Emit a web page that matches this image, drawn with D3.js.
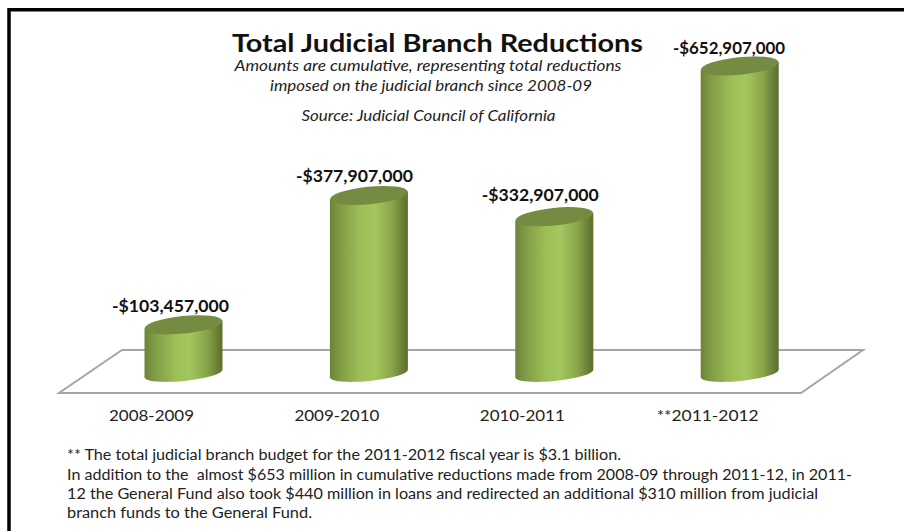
<!DOCTYPE html>
<html>
<head>
<meta charset="utf-8">
<script src="https://cdn.jsdelivr.net/npm/d3@7"></script>
<style>
html,body{margin:0;padding:0;background:#fff}
svg{display:block}
text{font-family:Lato,"Open Sans",sans-serif;white-space:pre}
</style>
</head>
<body>
<script>
const categories = ["2008-2009", "2009-2010", "2010-2011", "**2011-2012"];
const reductions = [-103457000, -377907000, -332907000, -652907000];
const titleText = "Total Judicial Branch Reductions";
const subtitleLines = [
  "Amounts are cumulative, representing total reductions",
  "imposed on the judicial branch since 2008-09",
  "Source: Judicial Council of California"
];
const footnoteLines = [
  "** The total judicial branch budget for the 2011-2012 fiscal year is $3.1 billion.",
  "In addition to the  almost $653 million in cumulative reductions made from 2008-09 through 2011-12, in 2011-",
  "12 the General Fund also took $440 million in loans and redirected an additional $310 million from judicial",
  "branch funds to the General Fund."
];

const width = 904, height = 531;
const svg = d3.select("body").append("svg").attr("width", width).attr("height", height);

// Horizontal shading that gives the columns their round look
const grad = svg.append("defs").append("linearGradient").attr("id", "body-shade");
[[0, "#6c8236"], [0.12, "#7f9a45"], [0.4, "#9dbf58"], [0.58, "#a3c65e"], [0.8, "#88a549"], [0.93, "#6a7f36"], [1, "#5c6f2d"]]
  .forEach(([o, c]) => grad.append("stop").attr("offset", o).attr("stop-color", c));

// Page frame runs off the right and bottom edges
svg.append("path").attr("d", `M9,${height} V9.8 H${width}`)
  .attr("fill", "none").attr("stroke", "#000").attr("stroke-width", 3.5);

// Perspective floor of the 3D plot
const floor = [[59, 393], [801, 393], [863, 350], [122, 350]];
svg.append("path").attr("d", d3.line()(floor) + "Z")
  .attr("fill", "#fff").attr("stroke", "#a6a6a6").attr("stroke-width", 2);

const x = d3.scalePoint().domain(categories).range([183.5, 739.7]);
const y = d3.scaleLinear().domain([0, -652907000]).range([373.5, 66]);

const rx = 39, ryTop = 8.8, ryBottom = 7.4, tilt = -5.8;
const skew = rx * Math.sin(-tilt * Math.PI / 180);

const bars = svg.selectAll("g.col").data(categories).join("g").attr("class", "col");

// Column side: the lower edge is an arc of the tilted base ellipse
bars.append("path")
  .attr("fill", "url(#body-shade)")
  .attr("d", (c, i) => {
    const cx = x(c), t = y(reductions[i]), b = y(0);
    return `M${cx - rx},${t + skew} L${cx + rx},${t - skew} L${cx + rx},${b - skew}` +
      ` A${rx},${ryBottom} ${tilt} 0 1 ${cx - rx},${b + skew} Z`;
  });

// Column cap
bars.append("ellipse")
  .attr("rx", rx).attr("ry", ryTop)
  .attr("fill", "#758b42")
  .attr("transform", (c, i) => `translate(${x(c)},${y(reductions[i])}) rotate(${tilt})`);

// Value labels above each cap
const money = v => "-$" + d3.format(",")(Math.abs(v));
const labelShift = [-13, -14.5, -14, -10.7];
const labelLift = [13, 14, 16, 12.5];
const labelWidths = [117, 117, 117, 112];
bars.append("text")
  .attr("x", (c, i) => x(c) + labelShift[i])
  .attr("y", (c, i) => y(reductions[i]) - labelLift[i])
  .attr("text-anchor", "middle")
  .attr("font-size", 17).attr("font-weight", 700).attr("fill", "#111")
  .attr("textLength", (c, i) => labelWidths[i]).attr("lengthAdjust", "spacingAndGlyphs")
  .text((c, i) => money(reductions[i]));

// Category labels sit under the front edge of the floor
const categoryWidths = [85, 85, 85, 102];
bars.append("text")
  .attr("x", c => x(c) - 32)
  .attr("y", 421)
  .attr("text-anchor", "middle")
  .attr("font-size", 16).attr("fill", "#222")
  .attr("textLength", (c, i) => categoryWidths[i]).attr("lengthAdjust", "spacingAndGlyphs")
  .text(c => c);

svg.append("text").attr("x", 437.5).attr("y", 52).attr("text-anchor", "middle")
  .attr("font-size", 25).attr("font-weight", 700).attr("fill", "#111")
  .attr("textLength", 411).attr("lengthAdjust", "spacingAndGlyphs").text(titleText);

const subtitleWidths = [387, 322, 254];
const subtitleCenters = [428, 431, 428.5];
svg.selectAll("text.sub").data(subtitleLines).join("text").attr("class", "sub")
  .attr("x", (d, i) => subtitleCenters[i]).attr("y", (d, i) => [71, 91, 121][i]).attr("text-anchor", "middle")
  .attr("font-size", 14.5).attr("font-style", "italic").attr("fill", "#222")
  .attr("textLength", (d, i) => subtitleWidths[i]).attr("lengthAdjust", "spacingAndGlyphs").text(d => d);

const footnoteWidths = [554, 785, 751, 245];
svg.selectAll("text.note").data(footnoteLines).join("text").attr("class", "note")
  .attr("x", 67).attr("y", (d, i) => [459.5, 480, 499, 518][i])
  .attr("font-size", 14.5).attr("fill", "#222")
  .attr("textLength", (d, i) => footnoteWidths[i]).attr("lengthAdjust", "spacingAndGlyphs").text(d => d);
</script>
</body>
</html>
